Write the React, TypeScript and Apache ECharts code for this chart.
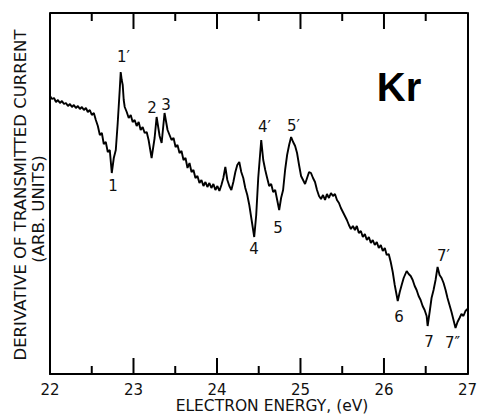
import React, { useEffect, useRef } from "react";
import * as echarts from "echarts";

// Electron energy (eV) of each sampled point of the Kr derivative trace
const energy = [
  22.0, 22.024, 22.048, 22.072, 22.095, 22.119, 22.143, 22.167, 22.191, 22.215,
  22.239, 22.263, 22.286, 22.31, 22.334, 22.358, 22.382, 22.406, 22.43, 22.453,
  22.477, 22.501, 22.525, 22.549, 22.573, 22.597, 22.621, 22.644, 22.668, 22.692,
  22.716, 22.74, 22.764, 22.788, 22.811, 22.835, 22.847, 22.859, 22.871, 22.883,
  22.895, 22.919, 22.943, 22.967, 22.99, 23.014, 23.038, 23.062, 23.086, 23.11,
  23.134, 23.158, 23.181, 23.217, 23.253, 23.277, 23.313, 23.337, 23.372, 23.408,
  23.432, 23.456, 23.48, 23.504, 23.527, 23.551, 23.575, 23.599, 23.623, 23.647,
  23.671, 23.695, 23.718, 23.742, 23.766, 23.79, 23.814, 23.838, 23.862, 23.885,
  23.909, 23.933, 23.957, 23.981, 24.005, 24.029, 24.053, 24.076, 24.1, 24.124,
  24.148, 24.172, 24.196, 24.22, 24.243, 24.267, 24.291, 24.315, 24.339, 24.363,
  24.387, 24.411, 24.446, 24.47, 24.494, 24.53, 24.554, 24.578, 24.601, 24.625,
  24.649, 24.673, 24.697, 24.721, 24.745, 24.768, 24.792, 24.816, 24.84, 24.864,
  24.888, 24.912, 24.936, 24.959, 24.983, 25.007, 25.031, 25.055, 25.079, 25.103,
  25.126, 25.15, 25.174, 25.198, 25.222, 25.246, 25.27, 25.294, 25.317, 25.341,
  25.365, 25.389, 25.413, 25.437, 25.461, 25.484, 25.508, 25.532, 25.556, 25.58,
  25.604, 25.628, 25.652, 25.675, 25.699, 25.723, 25.747, 25.771, 25.795, 25.819,
  25.843, 25.866, 25.89, 25.914, 25.938, 25.962, 25.986, 26.01, 26.033, 26.057,
  26.081, 26.105, 26.129, 26.165, 26.189, 26.212, 26.236, 26.272, 26.296, 26.32,
  26.344, 26.368, 26.391, 26.415, 26.439, 26.463, 26.487, 26.511, 26.523, 26.547,
  26.57, 26.594, 26.618, 26.642, 26.666, 26.69, 26.714, 26.738, 26.761, 26.785,
  26.809, 26.833, 26.857, 26.881, 26.905, 26.928, 26.952, 26.976, 27.0,
];

// Derivative of transmitted current (arbitrary units)
const signal = [
  278, 275, 276, 272, 274, 271, 273, 270, 271, 268,
  270, 267, 269, 266, 268, 265, 267, 264, 266, 262,
  264, 259, 261, 254, 248, 239, 241, 230, 232, 222,
  224, 201, 216, 224, 251, 284, 302, 294, 289, 274,
  267, 262, 256, 259, 252, 254, 248, 252, 244, 247,
  241, 242, 234, 216, 236, 257, 238, 231, 261, 244,
  239, 234, 236, 227, 229, 221, 223, 214, 216, 206,
  211, 202, 204, 196, 198, 191, 194, 188, 192, 187,
  191, 186, 190, 184, 188, 183, 189, 196, 207, 194,
  188, 184, 192, 202, 209, 212, 202, 196, 186, 179,
  169, 156, 137, 159, 196, 234, 214, 204, 196, 188,
  190, 182, 184, 174, 164, 176, 184, 204, 219, 229,
  237, 232, 228, 221, 209, 198, 194, 190, 196, 202,
  201, 196, 192, 184, 178, 175, 179, 174, 180, 176,
  181, 178, 180, 174, 171, 166, 162, 158, 154, 149,
  145, 148, 144, 148, 141, 143, 137, 140, 134, 137,
  131, 134, 129, 132, 126, 129, 123, 126, 119, 120,
  112, 102, 89, 73, 82, 89, 96, 103, 100, 98,
  94, 88, 84, 78, 74, 68, 64, 58, 48, 62,
  76, 84, 94, 107, 99, 96, 91, 84, 76, 69,
  62, 54, 46, 52, 56, 60, 58, 63, 65,
];

// Tick positions along the energy axis (whole eV get long ticks, half eV short ones)
const tickEnergy = [22.5, 23, 23.5, 24, 24.5, 25, 25.5, 26, 26.5];
const xTickLabels = ["22", "23", "24", "25", "26", "27"];

// Feature labels and where they sit on the page
const peakLabels = ["1′", "1", "2", "3", "4′", "4", "5′", "5", "6", "7′", "7", "7″"];
const peakLabelX = [117, 113, 152, 166, 258, 254, 287, 278, 399, 437, 429, 445];
const peakLabelY = [57, 186, 108, 105, 127, 249, 126, 228, 317, 256, 342, 343];
const peakLabelAlign = ["left", "center", "center", "center", "left", "center", "left", "center", "center", "left", "center", "left"];

const X_MIN = 22;
const X_MAX = 27;
const Y_MIN = 0;
const Y_MAX = 361;
const FONT = "'DejaVu Sans', sans-serif";
const INK = "#000";
const FRAME_W = 2;

export default function App() {
  const ref = useRef<HTMLDivElement>(null);

  useEffect(() => {
    if (!ref.current) return;
    const chart = echarts.init(ref.current, null, { renderer: "svg" });
    const data = energy.map((e, i) => [e, signal[i]]);

    const edgeLine = { show: true, onZero: false, lineStyle: { color: INK, width: FRAME_W } };

    chart.setOption({
      animation: false,
      backgroundColor: "#fff",
      grid: { left: 50, right: 11, top: 13, bottom: 40 },
      xAxis: {
        type: "value",
        min: X_MIN,
        max: X_MAX,
        interval: 1,
        axisLine: edgeLine,
        axisTick: { show: false },
        splitLine: { show: false },
        axisLabel: {
          show: true,
          color: "#111",
          fontSize: 15,
          fontFamily: FONT,
          margin: 8,
          formatter: (v: number) => xTickLabels[Math.round(v - X_MIN)] ?? "",
        },
      },
      yAxis: [
        {
          type: "value",
          min: Y_MIN,
          max: Y_MAX,
          position: "left",
          axisLine: edgeLine,
          axisTick: { show: false },
          axisLabel: { show: false },
          splitLine: { show: false },
        },
        {
          type: "value",
          min: Y_MIN,
          max: Y_MAX,
          position: "right",
          axisLine: { show: true, onZero: false, lineStyle: { color: INK, width: FRAME_W } },
          axisTick: { show: false },
          axisLabel: { show: false },
          splitLine: { show: false },
        },
      ],
      series: [
        {
          type: "line",
          data,
          showSymbol: false,
          lineStyle: { color: INK, width: 1.9 },
        },
      ],
    });

    // top edge and inward ticks, placed through the chart's own coordinate system
    const toPx = (x: number, y: number) =>
      chart.convertToPixel({ xAxisIndex: 0, yAxisIndex: 0 }, [x, y]) as number[];
    const edgeStyle = { stroke: INK, lineWidth: FRAME_W };
    const frameGraphics: any[] = [];
    const tl = toPx(X_MIN, Y_MAX);
    const tr = toPx(X_MAX, Y_MAX);
    frameGraphics.push({
      type: "line",
      id: "edge-top",
      shape: { x1: tl[0], y1: tl[1], x2: tr[0], y2: tr[1] },
      style: edgeStyle,
    });
    tickEnergy.forEach((e, i) => {
      const len = Number.isInteger(e) ? 16 : 8;
      const b = toPx(e, Y_MIN);
      const t = toPx(e, Y_MAX);
      frameGraphics.push({
        type: "line",
        id: `tick-b-${i}`,
        shape: { x1: b[0], y1: b[1], x2: b[0], y2: b[1] - len },
        style: edgeStyle,
      });
      frameGraphics.push({
        type: "line",
        id: `tick-t-${i}`,
        shape: { x1: t[0], y1: t[1], x2: t[0], y2: t[1] + len },
        style: edgeStyle,
      });
    });

    const labelGraphics = peakLabels.map((t, i) => ({
      type: "text",
      id: `peak-${i}`,
      x: peakLabelX[i],
      y: peakLabelY[i],
      style: {
        text: t,
        fill: "#111",
        font: `15px ${FONT}`,
        textAlign: peakLabelAlign[i],
        textVerticalAlign: "middle",
      },
    }));

    const rotatedTitle = (id: string, text: string, x: number, y: number) => ({
      type: "text",
      id,
      x,
      y,
      rotation: Math.PI / 2,
      style: {
        text,
        fill: "#111",
        font: `16.5px ${FONT}`,
        textAlign: "center",
        textVerticalAlign: "middle",
      },
    });

    chart.setOption({
      graphic: [
        ...frameGraphics,
        rotatedTitle("ytitle-1", "DERIVATIVE OF TRANSMITTED CURRENT", 20, 195),
        rotatedTitle("ytitle-2", "(ARB. UNITS)", 38, 209),
        {
          type: "text",
          id: "xtitle",
          x: 272,
          y: 406,
          style: {
            text: "ELECTRON ENERGY, (eV)",
            fill: "#111",
            font: `15.5px ${FONT}`,
            textAlign: "center",
            textVerticalAlign: "middle",
          },
        },
        {
          type: "text",
          id: "element",
          x: 399,
          y: 87,
          style: {
            text: "Kr",
            fill: INK,
            font: `bold 40px 'Liberation Sans', sans-serif`,
            textAlign: "center",
            textVerticalAlign: "middle",
          },
        },
        ...labelGraphics,
      ],
    });

    return () => chart.dispose();
  }, []);

  return (
    <div
      ref={ref}
      style={{ position: "fixed", left: 0, top: 0, width: 480, height: 414, background: "#fff" }}
    />
  );
}
